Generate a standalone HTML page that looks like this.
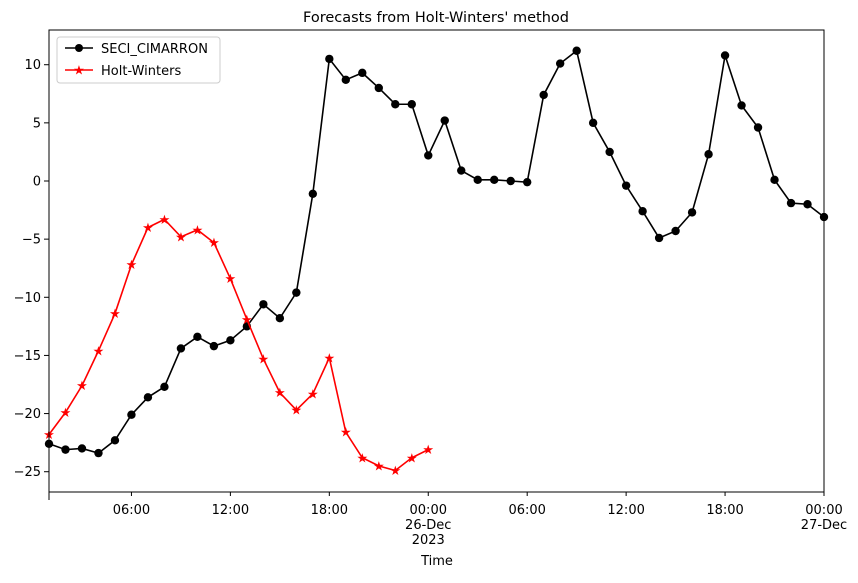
<!DOCTYPE html>
<html><head><meta charset="utf-8"><style>
body{margin:0;background:#fff;}
svg text{font-family:"DejaVu Sans","Liberation Sans",sans-serif;font-size:13px;fill:#000;}
</style></head><body>
<svg id="chart" width="858" height="578" xmlns="http://www.w3.org/2000/svg">
<text x="436" y="22" text-anchor="middle" style="font-size:14.5px">Forecasts from Holt-Winters' method</text>
<g id="axes"></g>
<g id="series"></g>
<text x="437" y="565" text-anchor="middle">Time</text>
<g>
<rect x="57" y="37" width="163" height="46" fill="#fff" stroke="#ccc" rx="3"/>
<line x1="65" y1="48" x2="93" y2="48" stroke="#000" stroke-width="1.5"/><circle cx="79" cy="48" r="4" fill="#000"/>
<text x="101" y="53">SECI_CIMARRON</text>
<line x1="65" y1="70" x2="93" y2="70" stroke="red" stroke-width="1.5"/><text x="79" y="74.5" text-anchor="middle" fill="red" style="fill:red;font-size:13px">★</text>
<text x="101" y="75">Holt-Winters</text>
</g>
</svg>
<script>
const actual=[-22.6,-23.1,-23.0,-23.4,-22.3,-20.1,-18.6,-17.7,-14.4,-13.4,-14.2,-13.7,-12.5,-10.6,-11.8,-9.6,-1.1,10.5,8.7,9.3,8.0,6.6,6.6,2.2,5.2,0.9,0.1,0.1,0.0,-0.1,7.4,10.1,11.2,5.0,2.5,-0.4,-2.6,-4.9,-4.3,-2.7,2.3,10.8,6.5,4.6,0.1,-1.9,-2.0,-3.1];
const forecast=[-21.8,-19.9,-17.6,-14.6,-11.4,-7.2,-4.0,-3.3,-4.8,-4.2,-5.3,-8.4,-11.9,-15.3,-18.2,-19.7,-18.3,-15.2,-21.6,-23.8,-24.5,-24.9,-23.8,-23.1];
const yTicks=[-25,-20,-15,-10,-5,0,5,10];
const xTickHours=[5,11,17,23,29,35,41,47];
const xTickLabels=[["06:00"],["12:00"],["18:00"],["00:00","26-Dec","2023"],["06:00"],["12:00"],["18:00"],["00:00","27-Dec"]];
const L=49,R=824,T=30,B=492;
const xs=i=>L+(R-L)*i/47;
const ys=v=>181-v*(472-65)/35;
const NS="http://www.w3.org/2000/svg";
function mk(tag,attrs,parent,txt){const e=document.createElementNS(NS,tag);for(const k in attrs)e.setAttribute(k,attrs[k]);if(txt!=null)e.textContent=txt;parent.appendChild(e);return e;}
const ax=document.getElementById('axes'),se=document.getElementById('series');
yTicks.forEach(v=>{const y=ys(v);
 const t=mk('line',{x1:L-5,x2:L,y1:y,y2:y,stroke:'#000'},ax);
 
 
 const l=mk('text',{x:L-8,y:y+4.5,'text-anchor':'end'},ax,String(v).replace('-','\u2212'));
 
 });
mk('line',{x1:L,x2:L,y1:B,y2:B+8,stroke:'#000'},ax);
xTickHours.forEach((h,k)=>{const x=xs(h);
 const t=mk('line',{x1:x,x2:x,y1:B,y2:B+4,stroke:'#000'},ax);
 
 
 xTickLabels[k].forEach((s,j)=>{const l=mk('text',{x:x,y:B+22+j*15,'text-anchor':'middle'},ax,s);
  
  });});
const ptsA=actual.map((v,i)=>xs(i)+','+ys(v)).join(' ');
const la=mk('polyline',{points:ptsA,fill:'none',stroke:'#000','stroke-width':1.6},se);


actual.forEach((v,i)=>{const c=mk('circle',{cx:xs(i),cy:ys(v),r:4.2,fill:'#000'},se);
 
 });
const ptsF=forecast.map((v,i)=>xs(i)+','+ys(v)).join(' ');
const lf=mk('polyline',{points:ptsF,fill:'none',stroke:'red','stroke-width':1.6},se);


forecast.forEach((v,i)=>{const s=mk('text',{x:xs(i),y:ys(v)+4.5,'text-anchor':'middle',style:'fill:red;font-size:13px'},se,'★');
 
 });
const fr=mk('rect',{x:L,y:T,width:R-L,height:B-T,fill:'none',stroke:'#000','stroke-width':1},se);


</script>
</body></html>
